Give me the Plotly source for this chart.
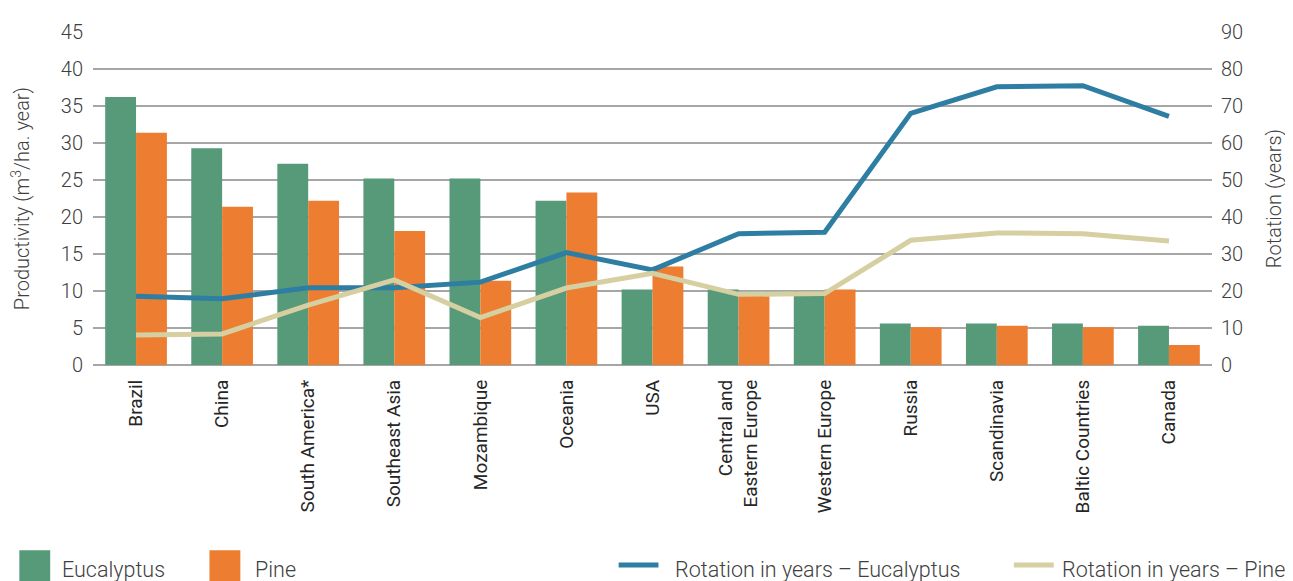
import plotly.graph_objects as go

categories = ["Brazil", "China", "South America*", "Southeast Asia", "Mozambique", "Oceania", "USA",
              "Central and<br>Eastern Europe", "Western Europe", "Russia", "Scandinavia",
              "Baltic Countries", "Canada"]
eucalyptus_prod = [36.2, 29.3, 27.2, 25.2, 25.2, 22.2, 10.2, 10.2, 10.0, 5.6, 5.6, 5.6, 5.3]
pine_prod = [31.4, 21.4, 22.2, 18.1, 11.4, 23.3, 13.3, 9.8, 10.2, 5.1, 5.3, 5.1, 2.7]
eucalyptus_rot = [18.6, 17.9, 20.9, 20.9, 22.4, 30.4, 25.7, 35.5, 35.9, 68.0, 75.2, 75.5, 67.2]
pine_rot = [8.1, 8.4, 16.2, 23.0, 12.8, 20.8, 24.8, 19.1, 19.3, 33.7, 35.7, 35.5, 33.5]
left_ticks = [0, 5, 10, 15, 20, 25, 30, 35, 40, 45]
right_ticks = [0, 10, 20, 30, 40, 50, 60, 70, 80, 90]

GREEN = "#579A7A"
ORANGE = "#EC7D31"
BLUE = "#2E7EA4"
BEIGE = "#D6CFA1"
FONT = "Roboto"
TXT = "#404040"

# page offset (body margin) compensation
OFF = 8
W, H = 1293 - OFF, 581 - OFF
ML, MR, MT, MB = 90 - OFF, 1293 - 1214, 28.5 - OFF, 581 - 365.5
PW = W - ML - MR
PH = H - MT - MB


def px_x(x):
    # x is a page pixel
    return (x - OFF - ML) / PW


def px_y(y):
    return (MT + PH - (y - OFF)) / PH


fig = go.Figure()
fig.add_trace(go.Bar(x=categories, y=eucalyptus_prod, name="Eucalyptus", marker_color=GREEN,
                     marker_line_width=0))
fig.add_trace(go.Bar(x=categories, y=pine_prod, name="Pine", marker_color=ORANGE,
                     marker_line_width=0))
fig.add_trace(go.Scatter(x=categories, y=eucalyptus_rot, name="Rotation in years – Eucalyptus",
                         mode="lines", line=dict(color=BLUE, width=5), yaxis="y2"))
fig.add_trace(go.Scatter(x=categories, y=pine_rot, name="Rotation in years – Pine",
                         mode="lines", line=dict(color=BEIGE, width=5), yaxis="y2"))

fig.update_layout(
    width=W, height=H,
    margin=dict(l=ML, r=MR, t=MT, b=MB),
    paper_bgcolor="white", plot_bgcolor="white",
    barmode="group", bargap=0.283, bargroupgap=0,
    showlegend=False,
    font=dict(family=FONT, color=TXT),
    xaxis=dict(tickangle=-90, tickfont=dict(family=FONT, size=19, color="#262626"),
               showgrid=False, showline=False, ticks="", ticklen=0, ticklabelstandoff=10),
    yaxis=dict(range=[0, 45], tickvals=left_ticks, showgrid=True, gridcolor="#A6A6A6", gridwidth=1.5,
               zeroline=True, zerolinecolor="#A6A6A6", zerolinewidth=1.5,
               tickfont=dict(family=FONT, size=20, color=TXT, weight=300), ticklabelstandoff=9,
               title=dict(text="Productivity (m<sup>3</sup>/ha. year)", standoff=27,
                          font=dict(family=FONT, size=20, color=TXT, weight=300))),
    yaxis2=dict(range=[0, 90], tickvals=right_ticks, overlaying="y", side="right", showgrid=False,
                zeroline=False,
                tickfont=dict(family=FONT, size=20, color=TXT, weight=300), ticklabelstandoff=8,
                title=dict(text="Rotation (years)", standoff=24,
                           font=dict(family=FONT, size=20, color=TXT, weight=300))),
)

# Custom legend (page pixel positions)
shapes = []
annotations = []
legend_items = [
    ("rect", GREEN, 16, 47, "Eucalyptus", 57),
    ("rect", ORANGE, 207, 238, "Pine", 251),
    ("line", BLUE, 618, 658, "Rotation in years – Eucalyptus", 673),
    ("line", BEIGE, 1015, 1055, "Rotation in years – Pine", 1061),
]
for kind, color, x0, x1, label, tx in legend_items:
    if kind == "rect":
        shapes.append(dict(type="rect", xref="paper", yref="paper", x0=px_x(x0), x1=px_x(x1),
                           y0=px_y(553), y1=px_y(595), fillcolor=color, line_width=0))
    else:
        shapes.append(dict(type="line", xref="paper", yref="paper", x0=px_x(x0), x1=px_x(x1),
                           y0=px_y(568), y1=px_y(568), line=dict(color=color, width=5)))
    annotations.append(dict(text=label, xref="paper", yref="paper", x=px_x(tx), y=px_y(572),
                            xanchor="left", yanchor="middle", showarrow=False,
                            font=dict(family=FONT, size=21.5, color=TXT, weight=300)))
fig.update_layout(shapes=shapes, annotations=annotations)

fig.write_html("out.html")
